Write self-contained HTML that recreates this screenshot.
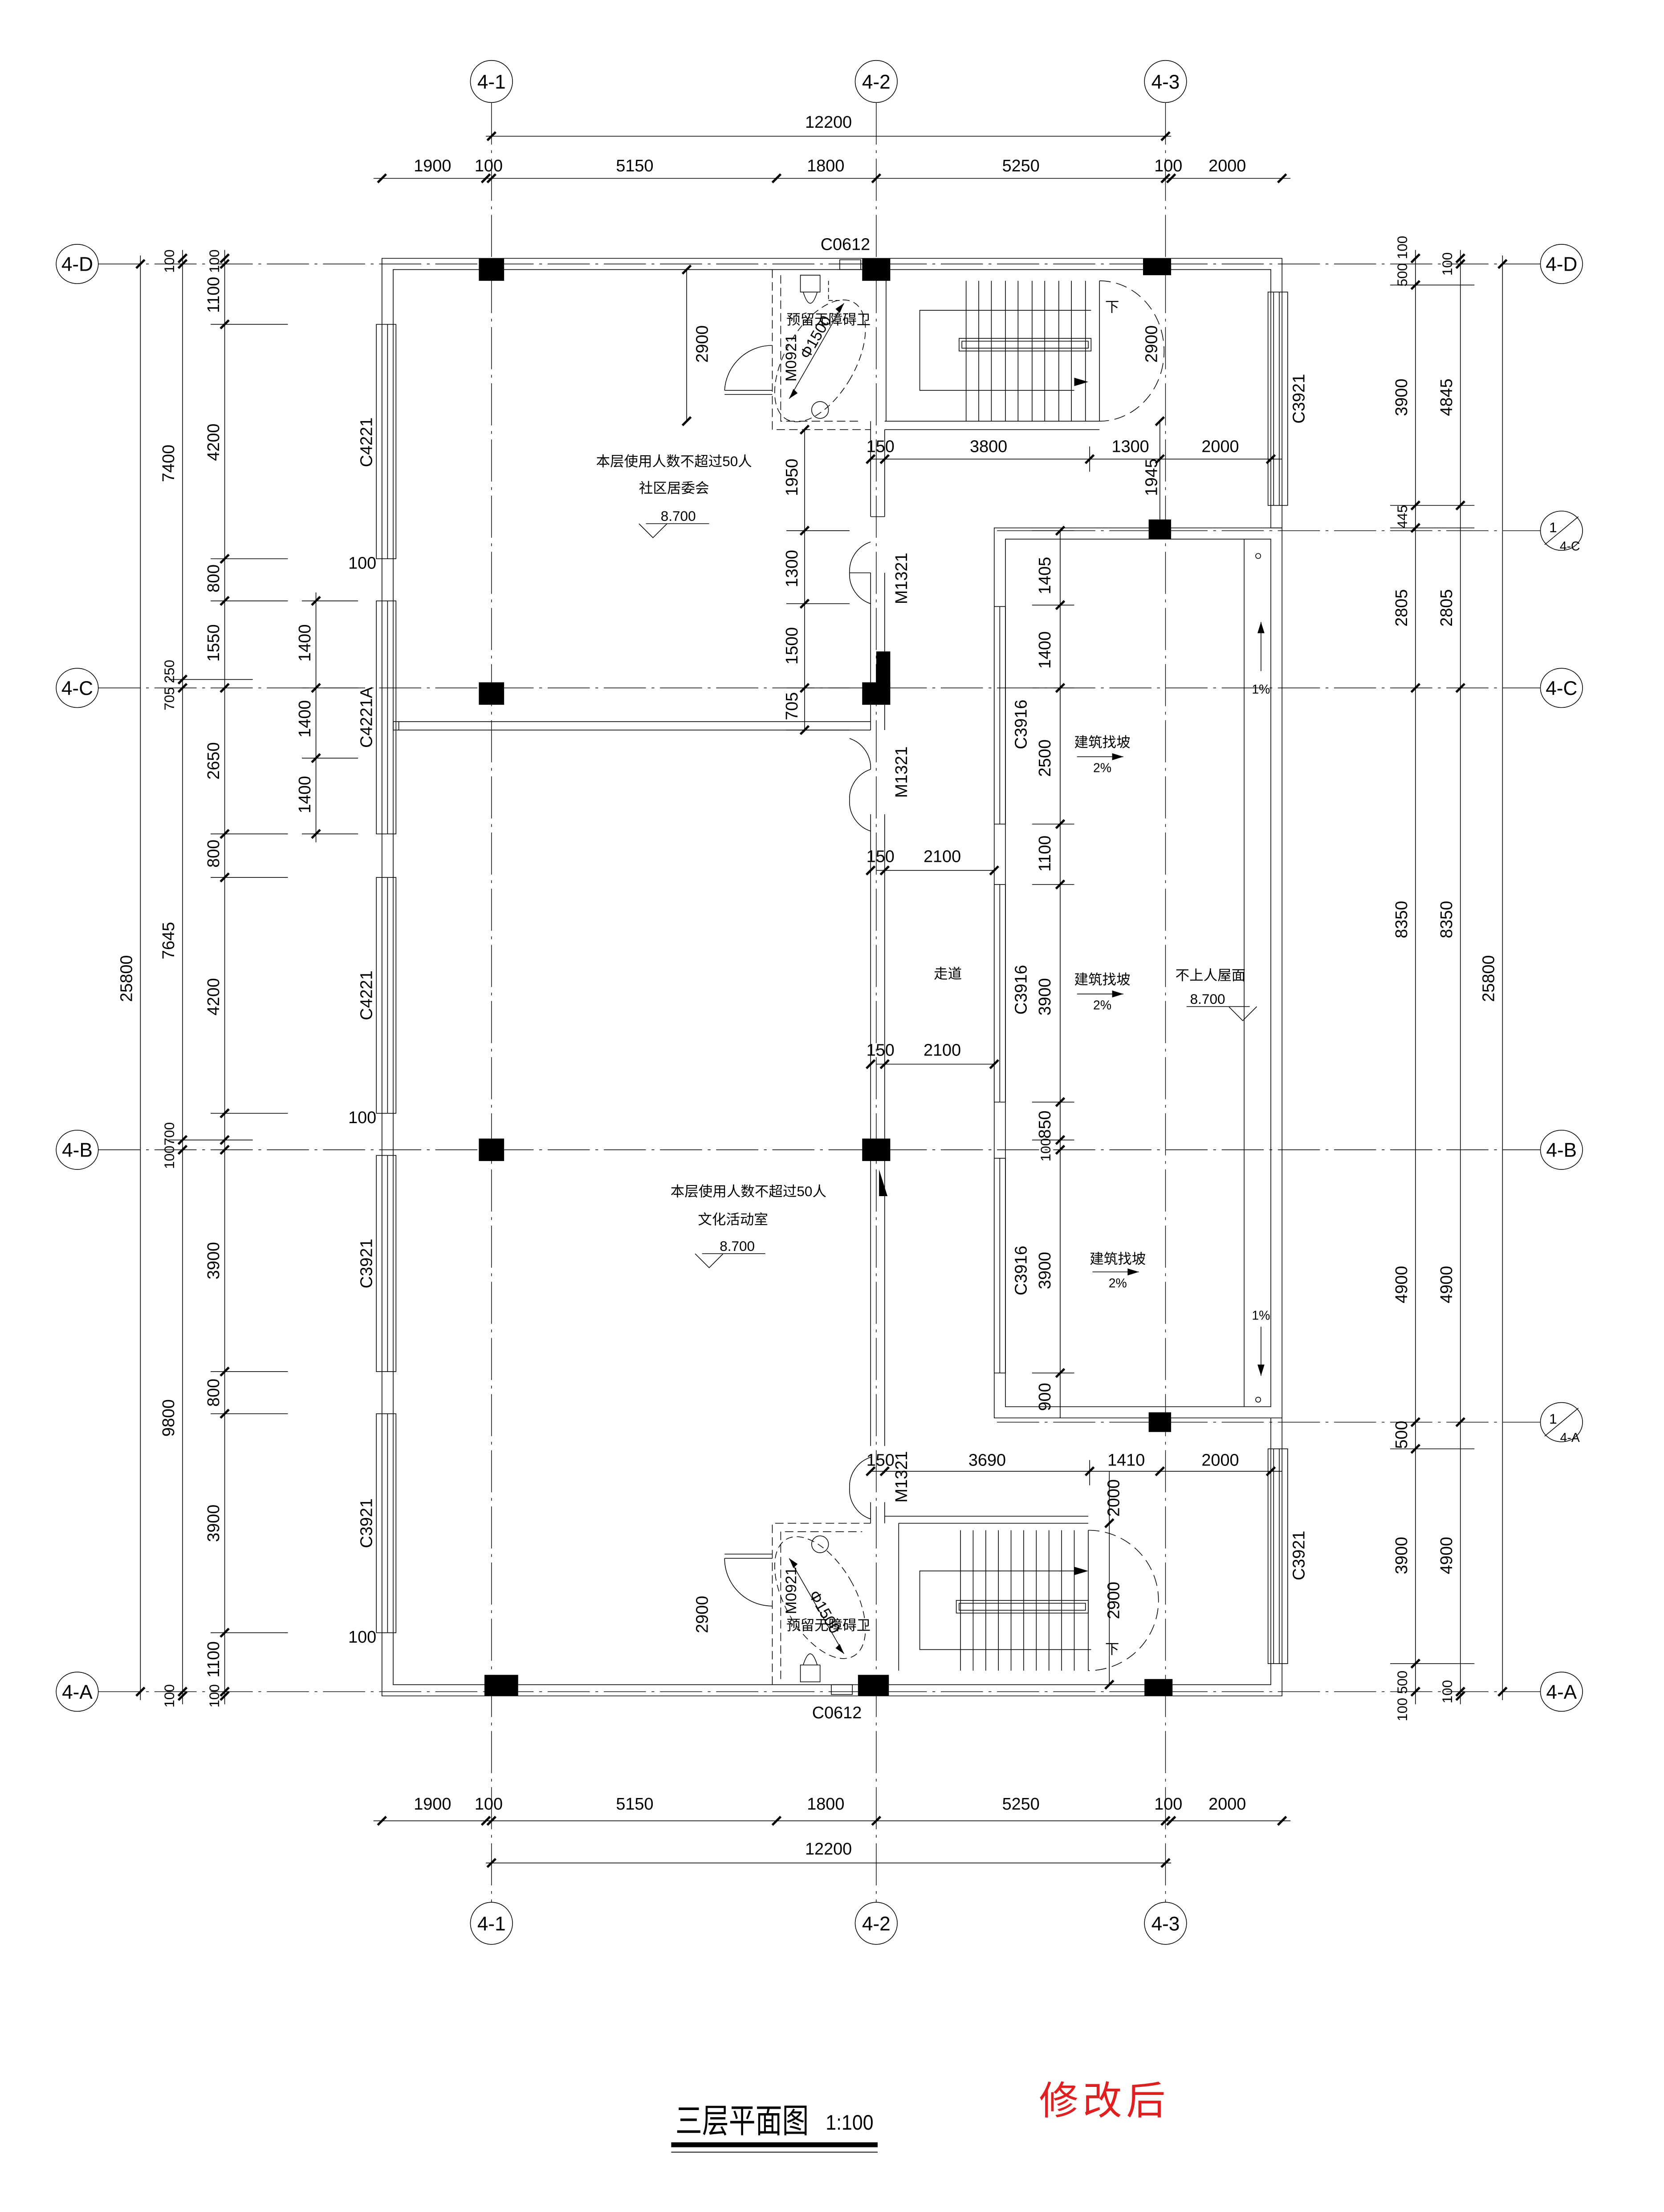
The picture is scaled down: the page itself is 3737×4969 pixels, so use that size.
<!DOCTYPE html>
<html><head><meta charset="utf-8"><style>
html,body{margin:0;padding:0;background:#fff;}
svg{display:block;}
text{font-family:"Liberation Sans","Noto Sans CJK SC",sans-serif;fill:#000;}
</style></head><body>
<svg width="3737" height="4969" viewBox="0 0 1185 1575.6" xmlns="http://www.w3.org/2000/svg">
<rect width="1185" height="1575.6" fill="#fff"/>
<g stroke="#000" fill="none" stroke-width="0.5">
<g stroke-dasharray="30 4 2 4" stroke-width="0.45">
<line x1="350" y1="73" x2="350" y2="1355"/>
<line x1="624" y1="73" x2="624" y2="1355"/>
<line x1="830" y1="73" x2="830" y2="1355"/>
<line x1="70" y1="188" x2="1097" y2="188"/>
<line x1="70" y1="490" x2="1097" y2="490"/>
<line x1="70" y1="819" x2="1097" y2="819"/>
<line x1="70" y1="1205" x2="1097" y2="1205"/>
<line x1="710" y1="378" x2="1097" y2="378"/>
<line x1="710" y1="1013" x2="1097" y2="1013"/>
</g>
<ellipse cx="350" cy="58" rx="15" ry="15"/><ellipse cx="624" cy="58" rx="15" ry="15"/><ellipse cx="830" cy="58" rx="15" ry="15"/>
<ellipse cx="350" cy="1370" rx="15" ry="15"/><ellipse cx="624" cy="1370" rx="15" ry="15"/><ellipse cx="830" cy="1370" rx="15" ry="15"/>
<ellipse cx="55" cy="188" rx="15" ry="14"/><ellipse cx="55" cy="490" rx="15" ry="14"/><ellipse cx="55" cy="819" rx="15" ry="14"/><ellipse cx="55" cy="1205" rx="15" ry="14"/>
<ellipse cx="1112" cy="188" rx="15" ry="14"/><ellipse cx="1112" cy="490" rx="15" ry="14"/><ellipse cx="1112" cy="819" rx="15" ry="14"/><ellipse cx="1112" cy="1205" rx="15" ry="14"/>
<ellipse cx="1112" cy="378" rx="15" ry="14"/><ellipse cx="1112" cy="1013" rx="15" ry="14"/>
<line x1="1100" y1="388" x2="1124" y2="368"/><line x1="1100" y1="1023" x2="1124" y2="1003"/>

<path d="M272 184 H913 V376 H905 V192 H280 V1200 H905 V1010 H913 V1208 H272 Z"/>
<path d="M708 376 H913 V1010 H708 Z"/>
<path d="M716 384 H905 V1002 H716 Z"/>
<line x1="886" y1="384" x2="886" y2="1002"/>
<circle cx="896" cy="396" r="1.8"/><circle cx="896" cy="997" r="1.8"/>
<path d="M620 300 V368 M630 306 V368 M620 368 H630 M620 408 V520 M630 408 V520"/>
<path d="M620 580 V1030 M630 580 V1030 M620 1070 V1085 M630 1070 V1085"/>
<path d="M630 306 H783 M630 300 H783"/>
<path d="M630 1080 H775 M640 1085 H775"/>
<path d="M280 514 H620 M280 520 H620 M280 514 V520 M284 514 V520"/>
<path d="M550 192 V306 H620 M556 196 V300 H614" stroke-dasharray="6 3"/>
<path d="M516 278 H550 M516 281 H550"/>
<path d="M516 278 A34 34 0 0 1 550 246"/>
<ellipse cx="584" cy="257" rx="25" ry="48" stroke-dasharray="5 3" transform="rotate(30 584 257)"/>
<line x1="562" y1="284" x2="601" y2="216"/>
<path d="M570 196 h14 v12 h-14 z M572 208 q5 16 10 0"/>
<circle cx="584" cy="292" r="6"/>
<path d="M590 200 v14 M590 214 h10" stroke-dasharray="3 2"/>
<path d="M550 1200 V1085 H620 M556 1196 V1091 H614" stroke-dasharray="6 3"/>
<path d="M516 1110 H550 M516 1107 H550"/>
<path d="M516 1110 A34 34 0 0 0 550 1144"/>
<ellipse cx="584" cy="1138" rx="25" ry="48" stroke-dasharray="5 3" transform="rotate(-30 584 1138)"/>
<line x1="562" y1="1110" x2="601" y2="1178"/>
<path d="M570 1198 h14 v-12 h-14 z M572 1186 q5 -16 10 0"/>
<circle cx="584" cy="1100" r="6"/>
<path d="M631 192 V300 M688 200 V300 M783 200 V300"/>
<path d="M697 200 V300 M706 200 V300 M716 200 V300 M725 200 V300 M735 200 V300 M744 200 V300 M754 200 V300 M763 200 V300 M773 200 V300"/>
<rect x="683" y="241" width="94" height="9"/><rect x="685" y="243" width="90" height="5"/>
<path d="M777 221 H655 V278 H765"/>
<path d="M783 200 A46 50 0 0 1 783 300" stroke-dasharray="8 4"/>
<path d="M640 1085 V1190 M684 1090 V1190 M775 1090 V1190"/>
<path d="M693 1090 V1190 M702 1090 V1190 M711 1090 V1190 M720 1090 V1190 M729 1090 V1190 M738 1090 V1190 M747 1090 V1190 M756 1090 V1190 M765 1090 V1190"/>
<rect x="681" y="1140" width="94" height="9"/><rect x="683" y="1142" width="90" height="5"/>
<path d="M765 1119 H655 V1175 H777"/>
<path d="M775 1090 A50 50 0 0 1 775 1190" stroke-dasharray="8 4"/>
<path d="M605 408 A22 22 0 0 1 620 386 M605 408 H620 M605 408 A22 22 0 0 0 620 430"/>
<path d="M605 570 A22 22 0 0 1 620 548 M605 570 A22 22 0 0 0 620 592 M605 526 A22 22 0 0 1 620 548"/>
<path d="M605 1060 A22 22 0 0 1 620 1038 M605 1060 A22 22 0 0 0 620 1082"/>
<g>
<rect x="268" y="231" width="14" height="167"/><line x1="272" y1="231" x2="272" y2="398"/><line x1="276" y1="231" x2="276" y2="398"/>
<rect x="268" y="428" width="14" height="166"/><line x1="272" y1="428" x2="272" y2="594"/><line x1="276" y1="428" x2="276" y2="594"/>
<rect x="268" y="625" width="14" height="168"/><line x1="272" y1="625" x2="272" y2="793"/><line x1="276" y1="625" x2="276" y2="793"/>
<rect x="268" y="823" width="14" height="154"/><line x1="272" y1="823" x2="272" y2="977"/><line x1="276" y1="823" x2="276" y2="977"/>
<rect x="268" y="1007" width="14" height="156"/><line x1="272" y1="1007" x2="272" y2="1163"/><line x1="276" y1="1007" x2="276" y2="1163"/>
<rect x="903" y="208" width="14" height="152"/><line x1="907" y1="208" x2="907" y2="360"/><line x1="911" y1="208" x2="911" y2="360"/>
<rect x="903" y="1032" width="14" height="153"/><line x1="907" y1="1032" x2="907" y2="1185"/><line x1="911" y1="1032" x2="911" y2="1185"/>
<rect x="708" y="432" width="8" height="155"/><line x1="712" y1="432" x2="712" y2="587"/>
<rect x="708" y="630" width="8" height="155"/><line x1="712" y1="630" x2="712" y2="785"/>
<rect x="708" y="825" width="8" height="153"/><line x1="712" y1="825" x2="712" y2="978"/>
<rect x="598" y="185" width="15" height="7"/><rect x="592" y="1200" width="15" height="7"/>
</g>
<line x1="346" y1="97" x2="834" y2="97"/>
<line x1="266" y1="127" x2="919" y2="127"/>
<line x1="266" y1="1297" x2="919" y2="1297"/>
<line x1="346" y1="1327" x2="834" y2="1327"/>
<line x1="100" y1="182" x2="100" y2="1211"/>
<line x1="130" y1="178" x2="130" y2="1214"/>
<line x1="160" y1="178" x2="160" y2="1214"/>
<line x1="225" y1="422" x2="225" y2="600"/>
<line x1="1008" y1="178" x2="1008" y2="1214"/>
<line x1="1040" y1="178" x2="1040" y2="1214"/>
<line x1="1070" y1="182" x2="1070" y2="1211"/>
<path d="M150 231 H205 M150 398 H205 M150 428 H205 M150 594 H205 M150 625 H205 M150 793 H205 M150 977 H205 M150 1007 H205 M150 1163 H205 M120 484 H180 M120 812 H180 M215 428 H255 M215 490 H255 M215 540 H255 M215 594 H255"/>
<path d="M990 203 H1050 M990 360 H1050 M990 376 H1050 M990 1032 H1050 M990 1185 H1050"/>
<line x1="573" y1="306" x2="573" y2="520"/>
<path d="M560 378 H605 M560 430 H605 M560 490 H605 M560 520 H605"/>
<line x1="489" y1="192" x2="489" y2="300"/>
<path d="M620 327 H913 M620 1048 H913 M624 620 H708 M624 758 H708"/>
<line x1="776" y1="318" x2="776" y2="336"/><line x1="776" y1="1040" x2="776" y2="1058"/>
<line x1="826" y1="300" x2="826" y2="376"/>
<line x1="790" y1="1048" x2="790" y2="1200"/>
<line x1="755" y1="378" x2="755" y2="1010"/>
<path d="M735 378 H765 M735 431 H765 M735 490 H765 M735 587 H765 M735 630 H765 M735 785 H765 M735 812 H765 M735 978 H765"/>
<line x1="898" y1="443" x2="898" y2="478"/><line x1="898" y1="945" x2="898" y2="980"/>
<line x1="767" y1="539" x2="800" y2="539"/><line x1="767" y1="708" x2="800" y2="708"/><line x1="778" y1="906" x2="811" y2="906"/>
<path d="M460 373 H505 M455 373 L465 383 L475 373"/>
<path d="M500 893 H545 M495 893 L505 903 L515 893"/>
<path d="M845 717 H890 M875 717 L885 727 L895 717"/>
</g>
<g stroke="#000" stroke-width="1.6">
<path d="M347 100 l6 -6 M827 100 l6 -6
M269 130 l6 -6 M343 130 l6 -6 M347 130 l6 -6 M550 130 l6 -6 M621 130 l6 -6 M827 130 l6 -6 M831 130 l6 -6 M910 130 l6 -6
M269 1300 l6 -6 M343 1300 l6 -6 M347 1300 l6 -6 M550 1300 l6 -6 M621 1300 l6 -6 M827 1300 l6 -6 M831 1300 l6 -6 M910 1300 l6 -6
M347 1330 l6 -6 M827 1330 l6 -6
M97 191 l6 -6 M97 1208 l6 -6
M127 187 l6 -6 M127 191 l6 -6 M127 487 l6 -6 M127 493 l6 -6 M127 815 l6 -6 M127 822 l6 -6 M127 1208 l6 -6 M127 1211 l6 -6
M157 187 l6 -6 M157 191 l6 -6 M157 234 l6 -6 M157 401 l6 -6 M157 431 l6 -6 M157 493 l6 -6 M157 597 l6 -6 M157 628 l6 -6 M157 796 l6 -6 M157 815 l6 -6 M157 822 l6 -6 M157 980 l6 -6 M157 1010 l6 -6 M157 1166 l6 -6 M157 1208 l6 -6 M157 1211 l6 -6
M222 431 l6 -6 M222 493 l6 -6 M222 543 l6 -6 M222 597 l6 -6
M1005 187 l6 -6 M1005 206 l6 -6 M1005 363 l6 -6 M1005 379 l6 -6 M1005 493 l6 -6 M1005 1016 l6 -6 M1005 1035 l6 -6 M1005 1188 l6 -6 M1005 1208 l6 -6
M1037 187 l6 -6 M1037 191 l6 -6 M1037 363 l6 -6 M1037 493 l6 -6 M1037 1016 l6 -6 M1037 1208 l6 -6 M1037 1211 l6 -6
M1067 191 l6 -6 M1067 1208 l6 -6
M570 309 l6 -6 M570 381 l6 -6 M570 433 l6 -6 M570 493 l6 -6 M570 523 l6 -6
M486 195 l6 -6 M486 303 l6 -6
M617 330 l6 -6 M627 330 l6 -6 M773 330 l6 -6 M823 330 l6 -6 M902 330 l6 -6
M617 1051 l6 -6 M627 1051 l6 -6 M773 1051 l6 -6 M823 1051 l6 -6 M902 1051 l6 -6
M617 623 l6 -6 M627 623 l6 -6 M705 623 l6 -6 M617 761 l6 -6 M627 761 l6 -6 M705 761 l6 -6
M752 381 l6 -6 M752 434 l6 -6 M752 493 l6 -6 M752 590 l6 -6 M752 633 l6 -6 M752 788 l6 -6 M752 815 l6 -6 M752 822 l6 -6 M752 981 l6 -6
M823 303 l6 -6 M787 1203 l6 -6 M787 1088 l6 -6"/>
</g>
<g fill="#000">
<rect x="341" y="184" width="18" height="16"/><rect x="614" y="184" width="20" height="16"/><rect x="814" y="184" width="20" height="12"/>
<rect x="341" y="486" width="18" height="16"/><rect x="614" y="486" width="20" height="16"/>
<rect x="341" y="811" width="18" height="16"/><rect x="614" y="811" width="20" height="16"/>
<rect x="818" y="370" width="16" height="14"/><rect x="818" y="1006" width="16" height="14"/>
<rect x="345" y="1193" width="24" height="15"/><rect x="611" y="1193" width="22" height="15"/><rect x="815" y="1196" width="20" height="12"/>
<path d="M624 464 L634 464 L634 490 L624 490 Z"/><path d="M626 833 L632 852 L626 852 Z"/>
<path d="M898 443 l-2.5 8 h5 z M898 980 l-2.5 -8 h5 z M800 539 l-8 -2.5 v5 z M800 708 l-8 -2.5 v5 z M811 906 l-8 -2.5 v5 z M775 272 l-10 -3 v6 z M775 1119 l-10 -3 v6 z M601 216 l-6 4 l3 3 z M562 284 l6 -4 l-3 -3 z M601 1178 l-6 -4 l3 -3 z M562 1110 l6 4 l-3 3 z"/>
</g>
<g font-size="14" text-anchor="middle">
<text x="350" y="63">4-1</text><text x="624" y="63">4-2</text><text x="830" y="63">4-3</text>
<text x="350" y="1375">4-1</text><text x="624" y="1375">4-2</text><text x="830" y="1375">4-3</text>
<text x="55" y="193">4-D</text><text x="55" y="495">4-C</text><text x="55" y="824">4-B</text><text x="55" y="1210">4-A</text>
<text x="1112" y="193">4-D</text><text x="1112" y="495">4-C</text><text x="1112" y="824">4-B</text><text x="1112" y="1210">4-A</text>
<text x="1106" y="379" font-size="10">1</text><text x="1118" y="392" font-size="9">4-C</text>
<text x="1106" y="1014" font-size="10">1</text><text x="1118" y="1027" font-size="9">4-A</text>
</g>
<g font-size="12" text-anchor="middle">
<text x="590" y="91">12200</text>
<text x="308" y="122">1900</text><text x="348" y="122">100</text><text x="452" y="122">5150</text><text x="588" y="122">1800</text><text x="727" y="122">5250</text><text x="832" y="122">100</text><text x="874" y="122">2000</text>
<text x="308" y="1289">1900</text><text x="348" y="1289">100</text><text x="452" y="1289">5150</text><text x="588" y="1289">1800</text><text x="727" y="1289">5250</text><text x="832" y="1289">100</text><text x="874" y="1289">2000</text>
<text x="590" y="1321">12200</text>
<text x="627" y="322">150</text><text x="704" y="322">3800</text><text x="805" y="322">1300</text><text x="869" y="322">2000</text>
<text x="627" y="1044">150</text><text x="703" y="1044">3690</text><text x="802" y="1044">1410</text><text x="869" y="1044">2000</text>
<text x="627" y="614">150</text><text x="671" y="614">2100</text><text x="627" y="752">150</text><text x="671" y="752">2100</text>
<text x="258" y="405">100</text><text x="258" y="800">100</text><text x="258" y="1170">100</text>
<text x="602" y="178">C0612</text><text x="596" y="1224">C0612</text>
</g>
<g font-size="12" text-anchor="middle">
<text transform="translate(94,697) rotate(-90)">25800</text>
<text transform="translate(1064,697) rotate(-90)">25800</text>
<text transform="translate(124,330) rotate(-90)">7400</text>
<text transform="translate(124,670) rotate(-90)">7645</text>
<text transform="translate(124,1010) rotate(-90)">9800</text>
<text transform="translate(124,186) rotate(-90)" font-size="10">100</text>
<text transform="translate(124,488) rotate(-90)" font-size="10">705 250</text>
<text transform="translate(124,816) rotate(-90)" font-size="10">100700</text>
<text transform="translate(124,1208) rotate(-90)" font-size="10">100</text>
<text transform="translate(156,186) rotate(-90)" font-size="10">100</text>
<text transform="translate(156,210) rotate(-90)">1100</text>
<text transform="translate(156,315) rotate(-90)">4200</text>
<text transform="translate(156,412) rotate(-90)">800</text>
<text transform="translate(156,458) rotate(-90)">1550</text>
<text transform="translate(156,542) rotate(-90)">2650</text>
<text transform="translate(156,608) rotate(-90)">800</text>
<text transform="translate(156,710) rotate(-90)">4200</text>
<text transform="translate(156,898) rotate(-90)">3900</text>
<text transform="translate(156,992) rotate(-90)">800</text>
<text transform="translate(156,1085) rotate(-90)">3900</text>
<text transform="translate(156,1182) rotate(-90)">1100</text>
<text transform="translate(156,1208) rotate(-90)" font-size="10">100</text>
<text transform="translate(221,458) rotate(-90)">1400</text>
<text transform="translate(221,512) rotate(-90)">1400</text>
<text transform="translate(221,566) rotate(-90)">1400</text>
<text transform="translate(265,315) rotate(-90)">C4221</text>
<text transform="translate(265,511) rotate(-90)">C4221A</text>
<text transform="translate(265,709) rotate(-90)">C4221</text>
<text transform="translate(265,900) rotate(-90)">C3921</text>
<text transform="translate(265,1085) rotate(-90)">C3921</text>
<text transform="translate(929,284) rotate(-90)">C3921</text>
<text transform="translate(929,1108) rotate(-90)">C3921</text>
<text transform="translate(1002,186) rotate(-90)" font-size="10">500 100</text>
<text transform="translate(1002,283) rotate(-90)">3900</text>
<text transform="translate(1002,368) rotate(-90)" font-size="10">445</text>
<text transform="translate(1002,433) rotate(-90)">2805</text>
<text transform="translate(1002,655) rotate(-90)">8350</text>
<text transform="translate(1002,915) rotate(-90)">4900</text>
<text transform="translate(1002,1022) rotate(-90)">500</text>
<text transform="translate(1002,1108) rotate(-90)">3900</text>
<text transform="translate(1002,1208) rotate(-90)" font-size="10">100 500</text>
<text transform="translate(1034,188) rotate(-90)" font-size="10">100</text>
<text transform="translate(1034,283) rotate(-90)">4845</text>
<text transform="translate(1034,433) rotate(-90)">2805</text>
<text transform="translate(1034,655) rotate(-90)">8350</text>
<text transform="translate(1034,915) rotate(-90)">4900</text>
<text transform="translate(1034,1108) rotate(-90)">4900</text>
<text transform="translate(1034,1205) rotate(-90)" font-size="10">100</text>
<text transform="translate(504,245) rotate(-90)">2900</text>
<text transform="translate(504,1150) rotate(-90)">2900</text>
<text transform="translate(824,245) rotate(-90)">2900</text>
<text transform="translate(824,340) rotate(-90)">1945</text>
<text transform="translate(797,1140) rotate(-90)">2900</text>
<text transform="translate(797,1067) rotate(-90)">2000</text>
<text transform="translate(568,340) rotate(-90)">1950</text>
<text transform="translate(568,405) rotate(-90)">1300</text>
<text transform="translate(568,460) rotate(-90)">1500</text>
<text transform="translate(568,503) rotate(-90)">705</text>
<text transform="translate(646,412) rotate(-90)">M1321</text>
<text transform="translate(646,550) rotate(-90)">M1321</text>
<text transform="translate(646,1052) rotate(-90)">M1321</text>
<text transform="translate(567,255) rotate(-90)" font-size="11">M0921</text>
<text transform="translate(567,1133) rotate(-90)" font-size="11">M0921</text>
<text transform="translate(584,242) rotate(-60)" font-size="11">Φ1500</text>
<text transform="translate(584,1150) rotate(60)" font-size="11">Φ1500</text>
<text transform="translate(731,516) rotate(-90)">C3916</text>
<text transform="translate(731,705) rotate(-90)">C3916</text>
<text transform="translate(731,905) rotate(-90)">C3916</text>
<text transform="translate(748,410) rotate(-90)">1405</text>
<text transform="translate(748,463) rotate(-90)">1400</text>
<text transform="translate(748,540) rotate(-90)">2500</text>
<text transform="translate(748,608) rotate(-90)">1100</text>
<text transform="translate(748,710) rotate(-90)">3900</text>
<text transform="translate(748,801) rotate(-90)">850</text>
<text transform="translate(748,819) rotate(-90)" font-size="10">100</text>
<text transform="translate(748,905) rotate(-90)">3900</text>
<text transform="translate(748,995) rotate(-90)">900</text>
</g>
<g font-size="10" text-anchor="middle">
<text x="480" y="332">本层使用人数不超过50人</text><text x="480" y="351">社区居委会</text><text x="483" y="371">8.700</text>
<text x="533" y="852">本层使用人数不超过50人</text><text x="522" y="872">文化活动室</text><text x="525" y="891">8.700</text>
<text x="675" y="697">走道</text>
<text x="862" y="698">不上人屋面</text><text x="860" y="715">8.700</text>
<text x="785" y="532">建筑找坡</text><text x="785" y="550" font-size="9">2%</text>
<text x="785" y="701">建筑找坡</text><text x="785" y="719" font-size="9">2%</text>
<text x="796" y="900">建筑找坡</text><text x="796" y="917" font-size="9">2%</text>
<text x="898" y="494" font-size="9">1%</text><text x="898" y="940" font-size="9">1%</text>
<text x="590" y="231">预留无障碍卫</text><text x="590" y="1161">预留无障碍卫</text>
<text x="792" y="222">下</text><text x="792" y="1178">下</text>
</g>
<text x="481" y="1519" font-size="24" textLength="95" lengthAdjust="spacingAndGlyphs" font-family="Liberation Serif,'Noto Serif CJK SC',serif">三层平面图</text>
<text x="588" y="1517" font-size="15" textLength="34" lengthAdjust="spacingAndGlyphs" font-family="Liberation Serif,serif">1:100</text>
<rect x="478" y="1526" width="147" height="3.5" fill="#000"/>
<line x1="478" y1="1533" x2="625" y2="1533" stroke="#000" stroke-width="0.6"/>
<text x="740" y="1506" font-size="28" fill="#e02020" style="fill:#e02020" letter-spacing="3">修改后</text>
</svg>
</body></html>
